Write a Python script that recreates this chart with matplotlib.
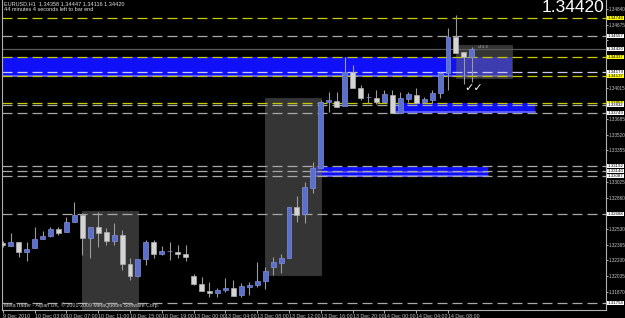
import matplotlib
matplotlib.use("Agg")
import matplotlib.pyplot as plt
from matplotlib.patches import Rectangle
from matplotlib.transforms import blended_transform_factory

# EURUSD H1 bars, 9 Dec 2010 23:00 .. 14 Dec 2010 10:00
opens = [1.32384, 1.32352, 1.32394, 1.32289, 1.32331, 1.32426, 1.32457, 1.32531, 1.32499, 1.32605,
         1.32678, 1.32436, 1.32553, 1.32499, 1.32405, 1.32468, 1.32163, 1.32037, 1.32216, 1.32394,
         1.32268, 1.32300, 1.32289, 1.32268, 1.32037, 1.31953, 1.31880, 1.31859, 1.31890, 1.31911,
         1.31838, 1.31922, 1.31943, 1.31985, 1.32132, 1.32174, 1.32226, 1.32762, 1.32688, 1.32961,
         1.33171, 1.33864, 1.33875, 1.33822, 1.34179, 1.34011, 1.33917, 1.33906, 1.33864, 1.33938,
         1.33749, 1.33896, 1.33938, 1.33864, 1.33885, 1.33959, 1.34169, 1.34547, 1.34389, 1.34337]
highs = [1.32405, 1.32489, 1.32394, 1.32394, 1.32553, 1.32510, 1.32553, 1.32553, 1.32657, 1.32815,
         1.32699, 1.32553, 1.32709, 1.32541, 1.32594, 1.32520, 1.32226, 1.32216, 1.32415, 1.32415,
         1.32352, 1.32394, 1.32363, 1.32363, 1.32058, 1.32027, 1.31974, 1.31911, 1.32016, 1.31995,
         1.31964, 1.31974, 1.32184, 1.32132, 1.32237, 1.32268, 1.32762, 1.32877, 1.33024, 1.33234,
         1.33885, 1.33969, 1.33969, 1.34337, 1.34253, 1.34043, 1.33959, 1.33990, 1.33990, 1.33990,
         1.33969, 1.33969, 1.34011, 1.33917, 1.33990, 1.34179, 1.34641, 1.34778, 1.34389, 1.34442]
lows = [1.32342, 1.32352, 1.32237, 1.32195, 1.32331, 1.32426, 1.32447, 1.32468, 1.32499, 1.32605,
        1.32258, 1.32226, 1.32342, 1.32363, 1.32363, 1.32100, 1.31995, 1.32027, 1.32153, 1.32226,
        1.32258, 1.32205, 1.32226, 1.32195, 1.31943, 1.31880, 1.31817, 1.31817, 1.31869, 1.31827,
        1.31817, 1.31838, 1.31922, 1.31901, 1.32048, 1.32069, 1.32226, 1.32605, 1.32594, 1.32909,
        1.33171, 1.33759, 1.33812, 1.33822, 1.34011, 1.33885, 1.33854, 1.33843, 1.33854, 1.33749,
        1.33749, 1.33864, 1.33854, 1.33854, 1.33854, 1.33906, 1.33990, 1.34379, 1.34053, 1.34074]
closes = [1.32363, 1.32394, 1.32289, 1.32321, 1.32426, 1.32457, 1.32531, 1.32489, 1.32605, 1.32678,
          1.32436, 1.32553, 1.32489, 1.32405, 1.32468, 1.32163, 1.32037, 1.32216, 1.32394, 1.32268,
          1.32300, 1.32300, 1.32268, 1.32237, 1.31953, 1.31880, 1.31859, 1.31890, 1.31911, 1.31827,
          1.31932, 1.31943, 1.31985, 1.32090, 1.32184, 1.32226, 1.32762, 1.32678, 1.32971, 1.33171,
          1.33864, 1.33885, 1.33812, 1.34179, 1.34011, 1.33906, 1.33917, 1.33864, 1.33948, 1.33749,
          1.33906, 1.33948, 1.33854, 1.33896, 1.33959, 1.34169, 1.34547, 1.34379, 1.34337, 1.34420]

date_labels = ["9 Dec 2010", "10 Dec 03:00", "10 Dec 07:00", "10 Dec 11:00", "10 Dec 15:00",
               "10 Dec 19:00", "13 Dec 00:00", "13 Dec 04:00", "13 Dec 08:00", "13 Dec 12:00",
               "13 Dec 16:00", "13 Dec 20:00", "14 Dec 00:00", "14 Dec 04:00", "14 Dec 08:00"]
price_ticks = [1.34840, 1.34675, 1.34510, 1.34345, 1.34180, 1.34015, 1.33850, 1.33685, 1.33520,
               1.33355, 1.33190, 1.33025, 1.32860, 1.32695, 1.32530, 1.32365, 1.32200, 1.32035, 1.31870]

# horizontal levels: (price, kind)
levels = [(1.34746, "y"), (1.34557, "g"), (1.34337, "y"), (1.34179, "w"), (1.34137, "y"),
          (1.33854, "y"), (1.33832, "g"), (1.33749, "g"),
          (1.33192, "g"), (1.33140, "g"), (1.33087, "g"), (1.32688, "g"), (1.31754, "g")]
bid = 1.34420

# blue zones: (bar_from, bar_to, price_low, price_high)
zones = [(-1, 64, 1.34127, 1.34337), (49.5, 67, 1.33749, 1.33854), (39, 61, 1.33076, 1.33182)]
# grey boxes: (bar_from, bar_to, price_low, price_high)
boxes = [(10, 17, 1.31600, 1.32715), (33, 40, 1.32048, 1.33906), (57, 64, 1.34116, 1.34462)]

W, H = 625, 318
fig = plt.figure(figsize=(W / 100, H / 100), dpi=100, facecolor="black")
ax = fig.add_axes([2 / W, 1 - 310 / H, 604 / W, 310 / H], facecolor="black")
ax.set_xlim(-0.1, -0.1 + 604 / 7.95)
ax.set_ylim(1.31680, 1.34935)

dash = (0, (8, 4))
cols = {"y": "#c8c800", "g": "#a8a8a8", "w": "#c8c8ff"}

for x0, x1, lo, hi in zones:
    ax.add_patch(Rectangle((x0, lo), x1 - x0, hi - lo, facecolor="#1010f8", edgecolor="none", zorder=1))
    # lighter stripe near the lower edge
    ax.plot([x0, x1], [lo + 0.00012, lo + 0.00012], color="#6a6aff", lw=1.2, zorder=1.5)
ax.plot([39, 61], [1.33130, 1.33130], color="#5a5aff", lw=1.2, zorder=1.5)

for x0, x1, lo, hi in boxes:
    ax.add_patch(Rectangle((x0, lo), x1 - x0, hi - lo, facecolor="#6a6a6a", alpha=0.5,
                           edgecolor="#4a4a4a", lw=0.8, zorder=2))

for p, k in levels:
    ax.axhline(p, color=cols[k], lw=0.9, linestyle=dash, zorder=2.5)
ax.axhline(bid, color="#5a5a5a", lw=0.9, zorder=2.5)

# candles
idx = list(range(len(opens)))
ax.vlines(idx, lows, highs, color="#9a9a9a", lw=0.8, zorder=3)
for i in idx:
    o, c = opens[i], closes[i]
    up = c >= o
    h = max(abs(c - o), 0.00002)
    ax.bar(i, h, bottom=min(o, c), width=0.62,
           color="#5b6fcc" if up else "#d4d4d4",
           edgecolor="#7f8fd8" if up else "#b0b0b0", lw=0.5, zorder=4)

# right price axis; scale labels hidden where a level box sits on them (as in MT4)
small = "Liberation Sans"
boxed = [p for p, k in levels] + [bid]
ax.yaxis.tick_right()
ax.set_yticks(price_ticks)
ax.set_yticklabels([f"{p:.5f}" if min(abs(p - b) for b in boxed) > 0.0006 else ""
                    for p in price_ticks], family=small)
ax.tick_params(axis="y", colors="#c8c8c8", labelsize=3.3, length=1.5, width=0.6, pad=0.5)
ax.set_xticks(range(0, 60, 4))
ax.set_xticklabels(date_labels, ha="left", family=small)
ax.tick_params(axis="x", colors="#c8c8c8", labelsize=3.8, length=2, width=0.6, pad=1)
ax.spines["top"].set_visible(False)
for s in ["left", "right", "bottom"]:
    ax.spines[s].set_color("#b0b0b0")
    ax.spines[s].set_linewidth(0.8)

tr = blended_transform_factory(ax.transAxes, ax.transData)
for p, k in levels + [(bid, "w")]:
    fc = "#ffff00" if k == "y" else "#ffffff"
    ax.text(1.003, p, f"{p:.5f}", transform=tr, fontsize=3.2, family=small, color="black",
            va="center", ha="left", bbox=dict(boxstyle="square,pad=0.1", fc=fc, ec="none"),
            clip_on=False, zorder=6)

# texts
ax.text(0.003, 0.995, "EURUSD,H1  1.34358 1.34447 1.34116 1.34420", transform=ax.transAxes,
        fontsize=4, family=small, color="#e0e0e0", va="top", ha="left")
ax.text(0.003, 0.978, "44 minutes 4 seconds left to bar end", transform=ax.transAxes,
        fontsize=4, family=small, color="#e0e0e0", va="top", ha="left")
ax.text(0.997, 1.0, "1.34420", transform=ax.transAxes, fontsize=12.5, color="white",
        family=small, va="top", ha="right", zorder=7)
ax.text(0.003, 0.008, "MetaTrader - Alpari UK, \u00a9 2001-2009 MetaQuotes Software Corp.",
        transform=ax.transAxes, fontsize=3.8, family=small, color="#c8c8c8", va="bottom", ha="left",
        zorder=7)
ax.text(59.7, 1.34425, "c44.4", fontsize=3.2, family=small, color="#a0a0a0", va="bottom", ha="left",
        zorder=5)
ax.text(58.0, 1.34060, "\u2713\u2713", fontsize=8, color="white", va="top", ha="left", zorder=5)

fig.savefig("out.png", dpi=100, facecolor="black")
